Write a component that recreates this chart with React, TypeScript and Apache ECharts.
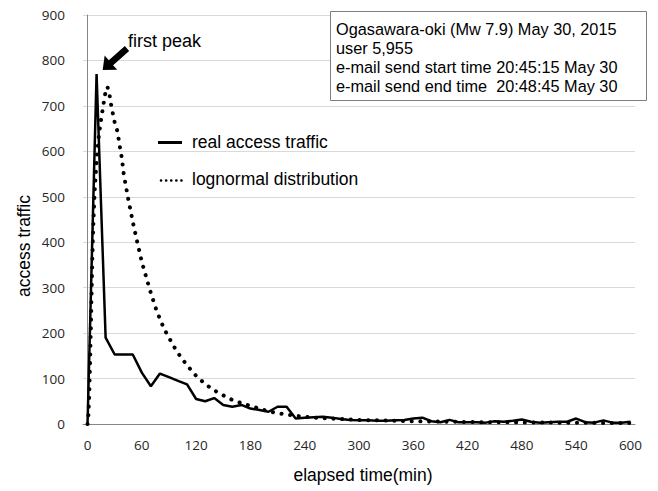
import React, { useEffect, useRef } from "react";
import * as echarts from "echarts";

// elapsed time (min) of the real access traffic samples
const realTime = [
  0, 10, 20, 30, 40, 50, 60, 70, 80, 90, 100, 110, 120, 130, 140, 150, 160, 170, 180, 190,
  200, 210, 220, 230, 240, 250, 260, 270, 280, 290, 300, 310, 320, 330, 340, 350, 360, 370, 380, 390,
  400, 410, 420, 430, 440, 450, 460, 470, 480, 490, 500, 510, 520, 530, 540, 550, 560, 570, 580, 590, 600,
];
const realTraffic = [
  0, 770, 190, 153, 153, 153, 113, 83, 111, 103, 95, 87, 55, 50, 57, 42, 38, 42, 34, 31,
  27, 38, 38, 12, 14, 15, 16, 14, 11, 9, 8, 8, 7, 7, 8, 9, 12, 14, 6, 4,
  9, 4, 4, 4, 3, 6, 5, 7, 10, 5, 3, 4, 5, 5, 12, 4, 3, 8, 3, 3, 5,
];

// lognormal distribution curve
const lognormalTime = [
  0, 1, 2, 3, 4, 5, 6, 7, 8, 10, 12, 14, 16, 18, 20, 22, 24, 26, 28, 30, 33, 36, 38, 40, 45, 50, 55, 60,
  65, 70, 75, 80, 85, 90, 95, 100, 110, 120, 130, 140, 150, 160, 170, 180, 190, 200, 210, 220, 230, 240,
  250, 260, 270, 280, 290, 300, 320, 340, 360, 380, 400, 440, 480, 520, 560, 600,
];
const lognormalValue = [
  0, 20, 70, 150, 240, 335, 415, 470, 515, 580, 625, 657, 683, 708, 732, 742, 728, 703, 683, 664, 644, 607, 584, 550, 495, 445, 400, 357,
  322, 288, 257, 231, 208, 190, 172, 156, 129, 106, 88, 74, 63, 53, 46, 40, 34, 28, 24, 21, 18, 16,
  14, 13, 12, 11, 10, 9, 8, 7, 6, 5.5, 5, 4, 3.5, 3, 2.5, 2,
];

const xTickValues = [0, 60, 120, 180, 240, 300, 360, 420, 480, 540, 600];
const seriesNames = ["real access traffic", "lognormal distribution"];
const infoLines = [
  "Ogasawara-oki (Mw 7.9) May 30, 2015",
  "user 5,955",
  "e-mail send start time 20:45:15 May 30",
  "e-mail send end time  20:48:45 May 30",
];
const annotation = "first peak";
const xTitle = "elapsed time(min)";
const yTitle = "access traffic";

const ARIAL = "'Liberation Sans', Arial, sans-serif";
const TICKFONT = "'Open Sans', 'Liberation Sans', sans-serif";
const CURVE_DOTS = [0.1, 8.6];
const LEGEND_DOTS = [0.1, 5];

function arrowPoints(tip: number[], tail: number[], headLen: number, headW: number, shaftW: number) {
  const dx = tip[0] - tail[0];
  const dy = tip[1] - tail[1];
  const len = Math.hypot(dx, dy);
  const ux = dx / len, uy = dy / len;
  const nx = -uy, ny = ux;
  const bx = tip[0] - ux * headLen, by = tip[1] - uy * headLen;
  return [
    tip,
    [bx + nx * headW / 2, by + ny * headW / 2],
    [bx + nx * shaftW / 2, by + ny * shaftW / 2],
    [tail[0] + nx * shaftW / 2, tail[1] + ny * shaftW / 2],
    [tail[0] - nx * shaftW / 2, tail[1] - ny * shaftW / 2],
    [bx - nx * shaftW / 2, by - ny * shaftW / 2],
    [bx - nx * headW / 2, by - ny * headW / 2],
  ];
}

export default function App() {
  const ref = useRef<HTMLDivElement>(null);
  useEffect(() => {
    const chart = echarts.init(ref.current!, null, { renderer: "svg" });
    const option: any = {
      animation: false,
      backgroundColor: "#fff",
      grid: { left: 83, right: 23, top: 15, bottom: 67, containLabel: false },
      xAxis: {
        type: "value",
        min: -5,
        max: 605,
        axisLine: { show: true, lineStyle: { color: "#868686", width: 1 } },
        axisTick: { show: false },
        splitLine: { show: false },
        axisLabel: {
          customValues: xTickValues,
          color: "#262626",
          fontFamily: TICKFONT,
          fontSize: 13.5,
          margin: 14,
        },
      },
      yAxis: {
        type: "value",
        min: 0,
        max: 900,
        interval: 100,
        axisLine: { show: true, lineStyle: { color: "#868686", width: 1 } },
        axisTick: { show: false },
        splitLine: { show: true, lineStyle: { color: "#d9d9d9", width: 1 } },
        axisLabel: { color: "#262626", fontFamily: TICKFONT, fontSize: 13.5, margin: 18 },
      },
      series: [
        {
          name: seriesNames[1],
          type: "line",
          data: lognormalTime.map((t, i) => [t, lognormalValue[i]]),
          symbol: "none",
          lineStyle: { color: "#000", width: 4, type: CURVE_DOTS, cap: "round" },
          z: 2,
        },
        {
          name: seriesNames[0],
          type: "line",
          data: realTime.map((t, i) => [t, realTraffic[i]]),
          symbol: "none",
          lineStyle: { color: "#000", width: 2.5 },
          z: 3,
        },
      ],
      graphic: [
        // info box
        {
          type: "rect",
          shape: { x: 330.5, y: 11.5, width: 316, height: 89 },
          style: { fill: "#fff", stroke: "#7f7f7f", lineWidth: 1 },
          z: 10,
        },
        ...infoLines.map((t, i) => ({
          type: "text",
          x: 336,
          y: 28.5 + i * 19,
          style: {
            text: t,
            fill: "#000",
            fontFamily: ARIAL,
            fontSize: 16.3,
            textAlign: "left",
            textVerticalAlign: "middle",
          },
          z: 11,
        })),
        // legend
        {
          type: "line",
          shape: { x1: 158, y1: 142.5, x2: 182, y2: 142.5 },
          style: { stroke: "#000", lineWidth: 3 },
          z: 10,
        },
        {
          type: "text",
          x: 192,
          y: 141.5,
          style: { text: seriesNames[0], fill: "#000", fontFamily: ARIAL, fontSize: 17.5, textVerticalAlign: "middle" },
          z: 10,
        },
        {
          type: "line",
          shape: { x1: 161, y1: 180.5, x2: 182, y2: 180.5 },
          style: { stroke: "#000", lineWidth: 2.6, lineDash: LEGEND_DOTS, lineCap: "round" },
          z: 10,
        },
        {
          type: "text",
          x: 192,
          y: 178.5,
          style: { text: seriesNames[1], fill: "#000", fontFamily: ARIAL, fontSize: 17.5, textVerticalAlign: "middle" },
          z: 10,
        },
        // annotation arrow
        {
          type: "polygon",
          shape: { points: arrowPoints([102.7, 70], [127, 48.5], 11, 19, 6.5) },
          style: { fill: "#000" },
          z: 10,
        },
        {
          type: "text",
          x: 128,
          y: 40.5,
          style: { text: annotation, fill: "#000", fontFamily: ARIAL, fontSize: 18, textVerticalAlign: "middle" },
          z: 10,
        },
        // axis titles
        {
          type: "text",
          x: 363,
          y: 475,
          style: { text: xTitle, fill: "#000", fontFamily: ARIAL, fontSize: 17.5, textAlign: "center", textVerticalAlign: "middle" },
        },
        {
          type: "text",
          x: 24,
          y: 246,
          rotation: Math.PI / 2,
          style: { text: yTitle, fill: "#000", fontFamily: ARIAL, fontSize: 17.5, textAlign: "center", textVerticalAlign: "middle" },
        },
      ],
    };
    chart.setOption(option);
    return () => chart.dispose();
  }, []);
  return (
    <div
      ref={ref}
      style={{ position: "fixed", left: 0, top: 0, width: 658, height: 491, background: "#fff" }}
    />
  );
}
